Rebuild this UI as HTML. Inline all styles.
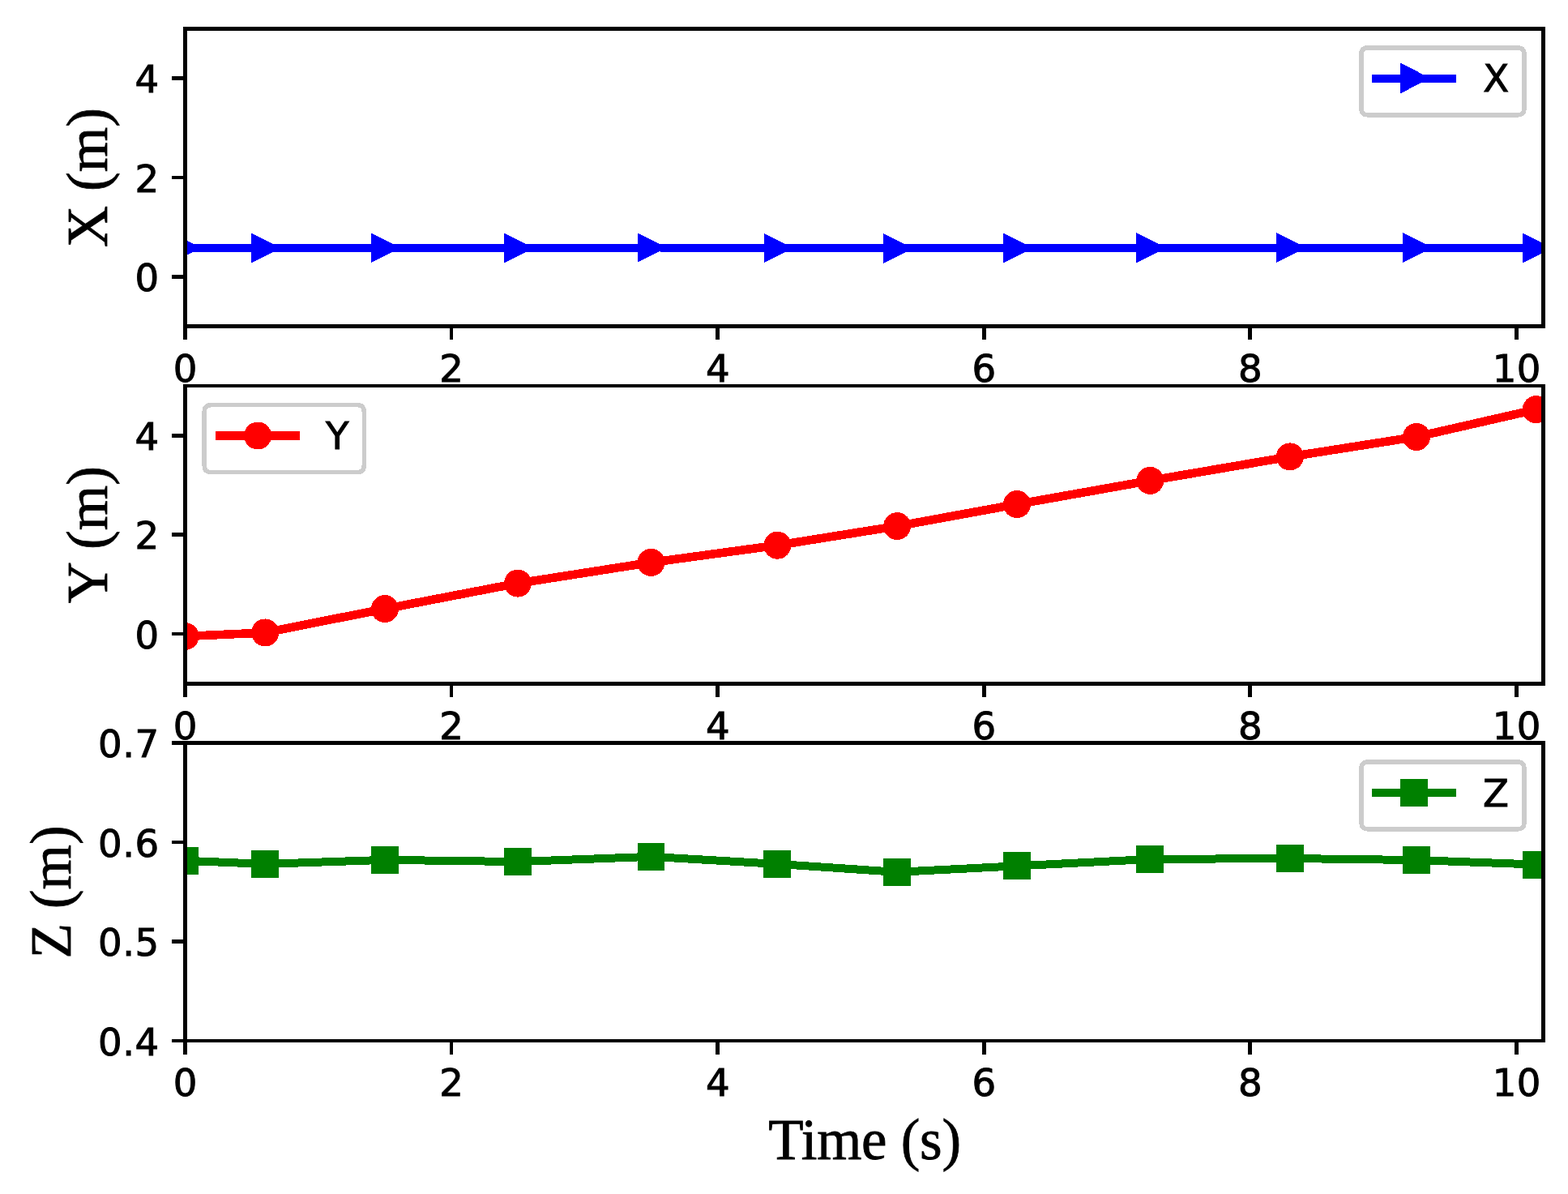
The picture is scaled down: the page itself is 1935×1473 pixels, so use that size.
<!DOCTYPE html>
<html lang="en"><head><meta charset="utf-8"><title>Position vs Time</title>
<style>html,body{margin:0;padding:0;background:#fff;}body{width:1935px;height:1473px;overflow:hidden;}main,figure{display:block;margin:0;padding:0;}svg{display:block;}.t{font-family:"DejaVu Sans", "Liberation Sans", sans-serif;font-size:46.60px;fill:#000;stroke:#000;stroke-width:1.00px;stroke-linejoin:miter;letter-spacing:0.5px;}.l{font-family:"Liberation Serif", "DejaVu Serif", serif;font-size:70.90px;fill:#000;stroke:#000;stroke-width:0.80px;}</style></head><body>
<main><figure aria-label="Position X, Y, Z in metres versus time in seconds">
<svg width="1935" height="1473" viewBox="0 0 1935 1473" role="img">
<title>X, Y and Z position (m) over Time (s)</title>
<rect x="0" y="0" width="1935" height="1473" fill="#ffffff"/>
<defs>
<clipPath id="c0"><rect x="228.50" y="35.50" width="1676.00" height="367.00"/></clipPath>
<clipPath id="c1"><rect x="228.50" y="476.00" width="1676.00" height="367.50"/></clipPath>
<clipPath id="c2"><rect x="228.50" y="916.50" width="1676.00" height="367.50"/></clipPath>
</defs>
<g id="axes-x">
<g clip-path="url(#c0)" shape-rendering="crispEdges">
<polyline points="228.50,305.77 327.20,305.97 474.90,305.72 639.00,305.83 803.50,305.52 959.40,305.97 1107.15,306.47 1255.00,306.09 1419.30,305.67 1591.90,305.63 1748.00,305.73 1895.70,306.00" fill="none" stroke="#0000ff" stroke-width="9.90" stroke-linejoin="round" stroke-linecap="square"/>
<path d="M214.12 291.39 L242.88 305.77 L214.12 320.14 Z" fill="#0000ff" stroke="#0000ff" stroke-width="5.00" stroke-linejoin="miter" stroke-miterlimit="10"/>
<path d="M312.82 291.60 L341.57 305.97 L312.82 320.35 Z" fill="#0000ff" stroke="#0000ff" stroke-width="5.00" stroke-linejoin="miter" stroke-miterlimit="10"/>
<path d="M460.52 291.34 L489.27 305.72 L460.52 320.09 Z" fill="#0000ff" stroke="#0000ff" stroke-width="5.00" stroke-linejoin="miter" stroke-miterlimit="10"/>
<path d="M624.62 291.45 L653.38 305.83 L624.62 320.20 Z" fill="#0000ff" stroke="#0000ff" stroke-width="5.00" stroke-linejoin="miter" stroke-miterlimit="10"/>
<path d="M789.12 291.14 L817.88 305.52 L789.12 319.89 Z" fill="#0000ff" stroke="#0000ff" stroke-width="5.00" stroke-linejoin="miter" stroke-miterlimit="10"/>
<path d="M945.02 291.60 L973.77 305.97 L945.02 320.35 Z" fill="#0000ff" stroke="#0000ff" stroke-width="5.00" stroke-linejoin="miter" stroke-miterlimit="10"/>
<path d="M1092.78 292.09 L1121.53 306.47 L1092.78 320.84 Z" fill="#0000ff" stroke="#0000ff" stroke-width="5.00" stroke-linejoin="miter" stroke-miterlimit="10"/>
<path d="M1240.62 291.72 L1269.38 306.09 L1240.62 320.47 Z" fill="#0000ff" stroke="#0000ff" stroke-width="5.00" stroke-linejoin="miter" stroke-miterlimit="10"/>
<path d="M1404.92 291.30 L1433.67 305.67 L1404.92 320.05 Z" fill="#0000ff" stroke="#0000ff" stroke-width="5.00" stroke-linejoin="miter" stroke-miterlimit="10"/>
<path d="M1577.53 291.25 L1606.28 305.63 L1577.53 320.00 Z" fill="#0000ff" stroke="#0000ff" stroke-width="5.00" stroke-linejoin="miter" stroke-miterlimit="10"/>
<path d="M1733.62 291.35 L1762.38 305.73 L1733.62 320.10 Z" fill="#0000ff" stroke="#0000ff" stroke-width="5.00" stroke-linejoin="miter" stroke-miterlimit="10"/>
<path d="M1881.33 291.63 L1910.08 306.00 L1881.33 320.38 Z" fill="#0000ff" stroke="#0000ff" stroke-width="5.00" stroke-linejoin="miter" stroke-miterlimit="10"/>
</g>
<g fill="#000" shape-rendering="crispEdges">
<rect x="226" y="405" width="5" height="14"/>
<rect x="555" y="405" width="4" height="14"/>
<rect x="883" y="405" width="5" height="14"/>
<rect x="1212" y="405" width="5" height="14"/>
<rect x="1540" y="405" width="5" height="14"/>
<rect x="1869" y="405" width="5" height="14"/>
<rect x="212" y="94" width="14" height="5"/>
<rect x="212" y="217" width="14" height="4"/>
<rect x="212" y="339" width="14" height="5"/>
</g>
<g fill="#000" shape-rendering="crispEdges">
<rect x="226" y="33" width="1681" height="5"/>
<rect x="226" y="400" width="1681" height="5"/>
<rect x="226" y="33" width="5" height="372"/>
<rect x="1902" y="33" width="5" height="372"/>
</g>
<g class="t">
<text x="228.80" y="471.00" text-anchor="middle">0</text>
<text x="557.40" y="471.00" text-anchor="middle">2</text>
<text x="886.00" y="471.00" text-anchor="middle">4</text>
<text x="1214.60" y="471.00" text-anchor="middle">6</text>
<text x="1543.20" y="471.00" text-anchor="middle">8</text>
<text x="1871.80" y="471.00" text-anchor="middle">10</text>
<text x="196.60" y="114.27" text-anchor="end">4</text>
<text x="196.60" y="236.60" text-anchor="end">2</text>
<text x="196.60" y="358.93" text-anchor="end">0</text>
</g>
<text class="l" style="font-size:71.3px" text-anchor="middle" transform="translate(132.00 219.20) rotate(-90)">X (m)</text>
<g id="legend-x">
<path d="M1688.00 58.80 L1872.80 58.80 Q1881.00 58.80 1881.00 67.00 L1881.00 133.70 Q1881.00 141.90 1872.80 141.90 L1688.00 141.90 Q1679.80 141.90 1679.80 133.70 L1679.80 67.00 Q1679.80 58.80 1688.00 58.80 Z" fill="#ffffff" fill-opacity="0.8" stroke="#cccccc" stroke-width="5.4" stroke-linejoin="miter" shape-rendering="crispEdges"/>
<g shape-rendering="crispEdges">
<rect x="1692.90" y="91.95" width="104.15" height="9.90" fill="#0000ff"/>
<path d="M1730.62 81.53 L1759.38 96.40 L1730.62 111.28 Z" fill="#0000ff" stroke="#0000ff" stroke-width="5.00" stroke-linejoin="miter" stroke-miterlimit="10"/>
</g>
<text class="t" x="1830.20" y="112.70">X</text>
</g>
</g>
<g id="axes-y">
<g clip-path="url(#c1)" shape-rendering="crispEdges">
<polyline points="228.50,785.00 327.20,780.45 474.90,751.10 639.00,719.60 803.50,693.90 959.40,672.70 1107.15,649.10 1255.00,622.10 1419.30,592.90 1591.90,563.40 1748.00,538.90 1895.70,505.20" fill="none" stroke="#ff0000" stroke-width="10.60" stroke-linejoin="round" stroke-linecap="square"/>
<circle cx="228.50" cy="785.00" r="17.00" fill="#ff0000"/>
<circle cx="327.20" cy="780.45" r="17.00" fill="#ff0000"/>
<circle cx="474.90" cy="751.10" r="17.00" fill="#ff0000"/>
<circle cx="639.00" cy="719.60" r="17.00" fill="#ff0000"/>
<circle cx="803.50" cy="693.90" r="17.00" fill="#ff0000"/>
<circle cx="959.40" cy="672.70" r="17.00" fill="#ff0000"/>
<circle cx="1107.15" cy="649.10" r="17.00" fill="#ff0000"/>
<circle cx="1255.00" cy="622.10" r="17.00" fill="#ff0000"/>
<circle cx="1419.30" cy="592.90" r="17.00" fill="#ff0000"/>
<circle cx="1591.90" cy="563.40" r="17.00" fill="#ff0000"/>
<circle cx="1748.00" cy="538.90" r="17.00" fill="#ff0000"/>
<circle cx="1895.70" cy="505.20" r="17.00" fill="#ff0000"/>
</g>
<g fill="#000" shape-rendering="crispEdges">
<rect x="226" y="846" width="5" height="14"/>
<rect x="555" y="846" width="4" height="14"/>
<rect x="883" y="846" width="5" height="14"/>
<rect x="1212" y="846" width="5" height="14"/>
<rect x="1540" y="846" width="5" height="14"/>
<rect x="1869" y="846" width="5" height="14"/>
<rect x="212" y="535" width="14" height="5"/>
<rect x="212" y="657" width="14" height="5"/>
<rect x="212" y="780" width="14" height="4"/>
</g>
<g fill="#000" shape-rendering="crispEdges">
<rect x="226" y="474" width="1681" height="4"/>
<rect x="226" y="841" width="1681" height="5"/>
<rect x="226" y="474" width="5" height="372"/>
<rect x="1902" y="474" width="5" height="372"/>
</g>
<g class="t">
<text x="228.80" y="912.00" text-anchor="middle">0</text>
<text x="557.40" y="912.00" text-anchor="middle">2</text>
<text x="886.00" y="912.00" text-anchor="middle">4</text>
<text x="1214.60" y="912.00" text-anchor="middle">6</text>
<text x="1543.20" y="912.00" text-anchor="middle">8</text>
<text x="1871.80" y="912.00" text-anchor="middle">10</text>
<text x="196.60" y="554.85" text-anchor="end">4</text>
<text x="196.60" y="677.35" text-anchor="end">2</text>
<text x="196.60" y="799.85" text-anchor="end">0</text>
</g>
<text class="l" style="font-size:71.3px" text-anchor="middle" transform="translate(132.00 659.75) rotate(-90)">Y (m)</text>
<g id="legend-y">
<path d="M260.30 499.70 L441.00 499.70 Q449.20 499.70 449.20 507.90 L449.20 574.30 Q449.20 582.50 441.00 582.50 L260.30 582.50 Q252.10 582.50 252.10 574.30 L252.10 507.90 Q252.10 499.70 260.30 499.70 Z" fill="#ffffff" fill-opacity="0.8" stroke="#cccccc" stroke-width="5.4" stroke-linejoin="miter" shape-rendering="crispEdges"/>
<g shape-rendering="crispEdges">
<rect x="265.95" y="532.20" width="104.15" height="10.60" fill="#ff0000"/>
<circle cx="318.10" cy="537.50" r="17.00" fill="#ff0000"/>
</g>
<text class="t" x="401.90" y="553.60">Y</text>
</g>
</g>
<g id="axes-z">
<g clip-path="url(#c2)" shape-rendering="crispEdges">
<polyline points="228.50,1061.80 327.20,1065.90 474.90,1060.85 639.00,1063.05 803.50,1056.85 959.40,1065.90 1107.15,1075.85 1255.00,1068.35 1419.30,1059.95 1591.90,1059.00 1748.00,1061.05 1895.70,1066.55" fill="none" stroke="#008000" stroke-width="10.00" stroke-linejoin="round" stroke-linecap="square"/>
<rect x="211.55" y="1044.85" width="33.90" height="33.90" fill="#008000"/>
<rect x="310.25" y="1048.95" width="33.90" height="33.90" fill="#008000"/>
<rect x="457.95" y="1043.90" width="33.90" height="33.90" fill="#008000"/>
<rect x="622.05" y="1046.10" width="33.90" height="33.90" fill="#008000"/>
<rect x="786.55" y="1039.90" width="33.90" height="33.90" fill="#008000"/>
<rect x="942.45" y="1048.95" width="33.90" height="33.90" fill="#008000"/>
<rect x="1090.20" y="1058.90" width="33.90" height="33.90" fill="#008000"/>
<rect x="1238.05" y="1051.40" width="33.90" height="33.90" fill="#008000"/>
<rect x="1402.35" y="1043.00" width="33.90" height="33.90" fill="#008000"/>
<rect x="1574.95" y="1042.05" width="33.90" height="33.90" fill="#008000"/>
<rect x="1731.05" y="1044.10" width="33.90" height="33.90" fill="#008000"/>
<rect x="1878.75" y="1049.60" width="33.90" height="33.90" fill="#008000"/>
</g>
<g fill="#000" shape-rendering="crispEdges">
<rect x="226" y="1286" width="5" height="15"/>
<rect x="555" y="1286" width="4" height="15"/>
<rect x="883" y="1286" width="5" height="15"/>
<rect x="1212" y="1286" width="5" height="15"/>
<rect x="1540" y="1286" width="5" height="15"/>
<rect x="1869" y="1286" width="5" height="15"/>
<rect x="212" y="914" width="14" height="5"/>
<rect x="212" y="1037" width="14" height="4"/>
<rect x="212" y="1159" width="14" height="5"/>
<rect x="212" y="1282" width="14" height="4"/>
</g>
<g fill="#000" shape-rendering="crispEdges">
<rect x="226" y="914" width="1681" height="5"/>
<rect x="226" y="1282" width="1681" height="4"/>
<rect x="226" y="914" width="5" height="372"/>
<rect x="1902" y="914" width="5" height="372"/>
</g>
<g class="t">
<text x="228.80" y="1351.70" text-anchor="middle">0</text>
<text x="557.40" y="1351.70" text-anchor="middle">2</text>
<text x="886.00" y="1351.70" text-anchor="middle">4</text>
<text x="1214.60" y="1351.70" text-anchor="middle">6</text>
<text x="1543.20" y="1351.70" text-anchor="middle">8</text>
<text x="1871.80" y="1351.70" text-anchor="middle">10</text>
<text x="196.60" y="934.10" text-anchor="end">0.7</text>
<text x="196.60" y="1056.60" text-anchor="end">0.6</text>
<text x="196.60" y="1179.10" text-anchor="end">0.5</text>
<text x="196.60" y="1301.60" text-anchor="end">0.4</text>
</g>
<text class="l" style="font-size:71.3px" text-anchor="middle" transform="translate(87.00 1100.45) rotate(-90)">Z (m)</text>
<g id="legend-z">
<path d="M1688.20 940.00 L1872.80 940.00 Q1881.00 940.00 1881.00 948.20 L1881.00 1014.80 Q1881.00 1023.00 1872.80 1023.00 L1688.20 1023.00 Q1680.00 1023.00 1680.00 1014.80 L1680.00 948.20 Q1680.00 940.00 1688.20 940.00 Z" fill="#ffffff" fill-opacity="0.8" stroke="#cccccc" stroke-width="5.4" stroke-linejoin="miter" shape-rendering="crispEdges"/>
<g shape-rendering="crispEdges">
<rect x="1693.10" y="973.00" width="104.00" height="10.00" fill="#008000"/>
<rect x="1728.05" y="961.05" width="33.90" height="33.90" fill="#008000"/>
</g>
<text class="t" x="1830.10" y="994.60">Z</text>
</g>
</g>
<text class="l" style="letter-spacing:-0.25px" x="1067.00" y="1430.30" text-anchor="middle">Time (s)</text>
</svg>
</figure></main></body></html>
